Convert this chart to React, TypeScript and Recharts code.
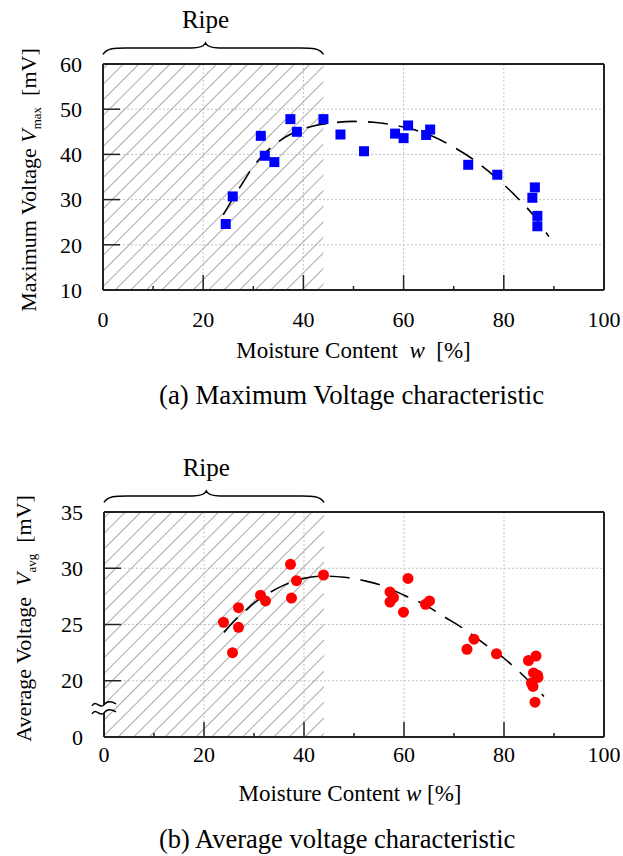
import { ComposedChart, Scatter, Line, XAxis, YAxis, CartesianGrid, ReferenceArea, ReferenceLine, ReferenceDot } from 'recharts';

// moisture axis: minor ticks every 10, labels every 20
const moistureTicks = [0, 10, 20, 30, 40, 50, 60, 70, 80, 90, 100];
const moistureGrid = [20, 40, 60, 80];
const ripeFrom = 0;
const ripeTo = 44;

// (a) maximum voltage
const maxMoisture = [24.5, 25.9, 31.5, 32.3, 34.2, 37.4, 38.7, 44.0, 47.4, 52.1, 58.3, 60.0, 60.9, 64.5, 65.3, 72.9, 78.7, 85.7, 86.2, 86.7, 86.7];
const maxVoltage = [24.6, 30.7, 44.1, 39.7, 38.3, 47.8, 45.0, 47.8, 44.4, 40.7, 44.6, 43.6, 46.4, 44.3, 45.5, 37.7, 35.5, 30.4, 32.7, 26.4, 24.1];
const maxFitMoisture = [24, 26, 28, 30, 32, 35, 38, 42, 46, 50, 54, 58, 62, 66, 70, 74, 78, 82, 86, 89];
const maxFitVoltage = [26.6, 30.4, 33.9, 37.3, 39.9, 42.8, 44.8, 46.3, 47.0, 47.3, 47.1, 46.5, 45.5, 43.9, 41.6, 38.8, 35.3, 31.2, 26.4, 21.8];
const maxTicks = [10, 20, 30, 40, 50, 60];
const maxGrid = [20, 30, 40, 50];

// (b) average voltage
const avgMoisture = [37.3, 43.9, 38.5, 37.5, 31.3, 32.3, 26.9, 23.9, 26.9, 25.7, 60.8, 57.2, 57.9, 57.2, 59.9, 65.1, 64.3, 74.0, 72.6, 78.5, 84.9, 86.4, 85.9, 86.7, 86.8, 85.5, 85.8, 86.2];
const avgVoltage = [30.35, 29.4, 28.9, 27.35, 27.6, 27.1, 26.5, 25.2, 24.75, 22.5, 29.1, 27.9, 27.4, 27.0, 26.1, 27.1, 26.8, 23.7, 22.8, 22.4, 21.8, 22.2, 20.7, 20.5, 20.3, 19.8, 19.5, 18.1];
const avgFitMoisture = [24, 26, 28, 30, 33, 36, 40, 44, 48, 52, 56, 60, 64, 68, 72, 76, 80, 84, 88];
const avgFitVoltage = [24.3, 25.3, 26.1, 26.9, 27.8, 28.5, 29.1, 29.3, 29.2, 28.9, 28.4, 27.6, 26.8, 25.7, 24.6, 23.3, 22.0, 20.4, 18.6];
// 15 sits at the axis break and is printed as "0"
const avgTicks = [15, 20, 25, 30, 35];
const avgGrid = [20, 25, 30];
const avgBreak = 17.5;

const toPoints = (xs: number[], ys: number[]) => xs.map((x, i) => ({ x, y: ys[i] }));

const FONT = "'Liberation Serif', 'Tinos', 'Times New Roman', 'DejaVu Serif', serif";
const AXIS = '#222';

function XTick({ x, y, payload, gap }: any) {
  const v = payload.value;
  const major = v % 20 === 0;
  return (
    <g>
      <line x1={x} x2={x} y1={y} y2={y - (major ? 15 : 4)} stroke={AXIS} strokeWidth={1.5} />
      {major && (
        <text x={x} y={y + gap} textAnchor="middle" fontSize={22} fill="#000" style={{ fontFamily: FONT }}>
          {v}
        </text>
      )}
    </g>
  );
}

function YTick({ x, y, payload, zeroAt }: any) {
  const v = payload.value;
  return (
    <g>
      <line x1={x} x2={x + 17} y1={y} y2={y} stroke={AXIS} strokeWidth={1.5} />
      <text x={x - 21} y={y} dy="0.35em" textAnchor="end" fontSize={22} fill="#000" style={{ fontFamily: FONT }}>
        {v === zeroAt ? 0 : v}
      </text>
    </g>
  );
}

const Square = ({ cx, cy }: any) => <rect x={cx - 5} y={cy - 5} width={10} height={10} fill="#0000ff" />;
const RedDot = ({ cx, cy }: any) => <circle cx={cx} cy={cy} r={5.5} fill="#ff0000" />;

// hatched "ripe" band with the brace and label above it
function RipeBand({ x, y, width, height }: any) {
  const top = y;
  const end = top - 9.5;
  const flat = top - 16;
  const peak = x + width * 0.465;
  const right = x + width;
  const d = `M ${x} ${end} C ${x + 4} ${flat - 1}, ${x + 14} ${flat}, ${x + 30} ${flat} L ${peak - 14} ${flat} C ${peak - 6} ${flat}, ${peak - 2} ${flat - 1}, ${peak} ${top - 21} C ${peak + 2} ${flat - 1}, ${peak + 6} ${flat}, ${peak + 14} ${flat} L ${right - 30} ${flat} C ${right - 14} ${flat}, ${right - 4} ${flat - 1}, ${right} ${end}`;
  return (
    <g>
      <rect x={x} y={y} width={width} height={height} fill="url(#ripeHatch)" />
      <path d={d} fill="none" stroke="#000" strokeWidth={1.5} />
      <text x={peak} y={top - 36} textAnchor="middle" fontSize={25} fill="#000" style={{ fontFamily: FONT }}>
        Ripe
      </text>
    </g>
  );
}

function BreakMark({ cx, cy }: any) {
  const wave = (o: number) =>
    `M ${cx - 12} ${cy + o + 1} C ${cx - 8} ${cy + o - 6}, ${cx - 4} ${cy + o + 5}, ${cx} ${cy + o} C ${cx + 3} ${cy + o - 4}, ${cx + 7} ${cy + o - 4}, ${cx + 12} ${cy + o - 1}`;
  return (
    <g>
      <rect x={cx - 3} y={cy - 4} width={6} height={8} fill="#fff" />
      <path d={wave(-4)} fill="none" stroke="#000" strokeWidth={1.4} />
      <path d={wave(4)} fill="none" stroke="#000" strokeWidth={1.4} />
    </g>
  );
}

interface PanelProps {
  height: number;
  margin: { top: number; right: number; bottom: number; left: number };
  yWidth: number;
  points: { x: number; y: number }[];
  fit: { x: number; y: number }[];
  yDomain: [number, number];
  yTicks: number[];
  yGrid: number[];
  marker: any;
  yTitle: string;
  ySub: string;
  yTitleX: number;
  yTitleShift: number;
  tickGap: number;
  xTitleGap: number;
  xTitleShift: number;
  xTitle: string;
  xGap: string;
  zeroAt?: number;
  breakAt?: number;
}

function Panel(p: PanelProps) {
  return (
    <ComposedChart width={623} height={p.height} margin={p.margin}>
      <CartesianGrid stroke="#c4c4c4" strokeDasharray="2 2" verticalValues={moistureGrid} horizontalValues={p.yGrid} />
      <ReferenceArea x1={ripeFrom} x2={ripeTo} y1={p.yDomain[0]} y2={p.yDomain[1]} ifOverflow="visible" shape={RipeBand} />
      <XAxis
        type="number"
        dataKey="x"
        domain={[0, 100]}
        ticks={moistureTicks}
        interval={0}
        tickSize={0}
        tickMargin={0}
        tickLine={false}
        tick={<XTick gap={p.tickGap} />}
        axisLine={{ stroke: AXIS, strokeWidth: 2 }}
        height={40}
        label={{
          content: ({ viewBox }: any) => (
            <text
              x={viewBox.x + viewBox.width / 2 + p.xTitleShift}
              y={viewBox.y + p.xTitleGap}
              textAnchor="middle"
              fontSize={23}
              fill="#000"
              style={{ whiteSpace: 'pre', fontFamily: FONT }}
            >
              {p.xTitle + p.xGap}
              <tspan fontStyle="italic">w</tspan>
              {p.xGap + '[%]'}
            </text>
          ),
        }}
      />
      <YAxis
        type="number"
        dataKey="y"
        domain={p.yDomain}
        ticks={p.yTicks}
        interval={0}
        tickSize={0}
        tickMargin={0}
        tickLine={false}
        tick={<YTick zeroAt={p.zeroAt} />}
        axisLine={{ stroke: AXIS, strokeWidth: 2 }}
        width={p.yWidth}
        label={{
          content: ({ viewBox }: any) => {
            const cx = viewBox.x + p.yTitleX;
            const cy = viewBox.y + viewBox.height / 2 + p.yTitleShift;
            return (
              <text
                x={cx}
                y={cy}
                transform={`rotate(-90 ${cx} ${cy})`}
                textAnchor="middle"
                fontSize={22}
                fill="#000"
                style={{ whiteSpace: 'pre', fontFamily: FONT }}
              >
                {p.yTitle}
                <tspan fontStyle="italic">V</tspan>
                <tspan fontSize={13} dy={5}>{p.ySub}</tspan>
                <tspan dy={-5}>{'  [mV]'}</tspan>
              </text>
            );
          },
        }}
      />
      <ReferenceLine y={p.yDomain[1]} stroke={AXIS} strokeWidth={2} />
      <ReferenceLine x={100} stroke={AXIS} strokeWidth={2} />
      <Line
        data={p.fit}
        dataKey="y"
        type="monotone"
        stroke="#000"
        strokeWidth={1.6}
        strokeDasharray="20 11"
        dot={false}
        activeDot={false}
        isAnimationActive={false}
      />
      <Scatter data={p.points} shape={p.marker} isAnimationActive={false} />
      {p.breakAt !== undefined && <ReferenceDot x={0} y={p.breakAt} ifOverflow="visible" shape={BreakMark} />}
    </ComposedChart>
  );
}

export default function App() {
  return (
    <div style={{ position: 'absolute', left: 0, top: 0, width: 623, height: 856, background: '#fff', fontFamily: FONT, overflow: 'hidden' }}>
      <svg width={0} height={0} style={{ position: 'absolute' }}>
        <defs>
          <pattern id="ripeHatch" patternUnits="userSpaceOnUse" width={11} height={11} patternTransform="rotate(45)">
            <line x1={0} y1={0} x2={0} y2={11} stroke="#a4a4a4" strokeWidth={1.9} />
          </pattern>
        </defs>
      </svg>
      <div style={{ position: 'absolute', left: 0, top: 0 }}>
        <Panel
          height={380}
          margin={{ top: 64, right: 19, bottom: 50, left: 0 }}
          yWidth={103}
          points={toPoints(maxMoisture, maxVoltage)}
          fit={toPoints(maxFitMoisture, maxFitVoltage)}
          yDomain={[10, 60]}
          yTicks={maxTicks}
          yGrid={maxGrid}
          marker={Square}
          yTitle="Maximum Voltage "
          ySub="max"
          yTitleX={36}
          yTitleShift={3}
          tickGap={37}
          xTitleGap={68}
          xTitleShift={0}
          xTitle="Moisture Content"
          xGap="  "
        />
      </div>
      <div style={{ position: 'absolute', left: 0, top: 450 }}>
        <Panel
          height={400}
          margin={{ top: 62, right: 19, bottom: 73, left: 0 }}
          yWidth={104}
          points={toPoints(avgMoisture, avgVoltage)}
          fit={toPoints(avgFitMoisture, avgFitVoltage)}
          yDomain={[15, 35]}
          yTicks={avgTicks}
          yGrid={avgGrid}
          marker={RedDot}
          yTitle="Average Voltage  "
          ySub="avg"
          yTitleX={31}
          yTitleShift={-6}
          tickGap={25}
          xTitleGap={64}
          xTitleShift={-4}
          xTitle="Moisture Content"
          xGap=" "
          zeroAt={15}
          breakAt={avgBreak}
        />
      </div>
      <div style={{ position: 'absolute', left: 159, top: 382, fontSize: 26.8, lineHeight: '26px', whiteSpace: 'nowrap' }}>
        (a) Maximum Voltage characteristic
      </div>
      <div style={{ position: 'absolute', left: 159, top: 827, fontSize: 26.5, lineHeight: '24px', whiteSpace: 'nowrap' }}>
        (b) Average voltage characteristic
      </div>
    </div>
  );
}
